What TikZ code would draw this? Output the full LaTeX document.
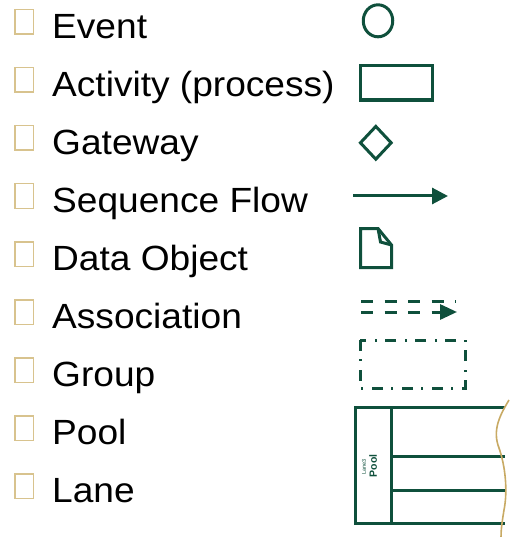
\documentclass[tikz,border=0pt]{standalone}
\usepackage{fontspec}
\setmainfont{Liberation Sans}[FakeStretch=1.06]
\newfontfamily\smallsans{Liberation Sans}
\usetikzlibrary{arrows.meta,shapes.geometric}
\definecolor{bgreen}{HTML}{0F503C}
\definecolor{bulletgold}{HTML}{D8C38E}
\definecolor{wavegold}{HTML}{C8AA64}
\tikzset{
  bulletbox/.style={draw=bulletgold, line width=1.5pt, fill=white, minimum width=18.5pt, minimum height=24.5pt, inner sep=0pt, anchor=south west},
  itemtext/.style={anchor=base west, inner sep=0pt, font=\fontsize{35}{40}\selectfont, text=black},
  symline/.style={draw=bgreen, line width=3pt},
}
\begin{document}
\begin{tikzpicture}[x=1pt,y=-1pt]
\useasboundingbox (0,0) rectangle (510,537);
% bullets and texts
\foreach \i/\t in {0/Event,1/Activity (process),2/Gateway,3/Sequence Flow,4/Data Object,5/Association,6/Group,7/Pool,8/Lane}{
  \node[bulletbox] (b\i) at (14,{38.5+58*\i-3.5}) {};
  \node[itemtext] (t\i) at (52,{38.5+58*\i}) {\t};
}
% event
\node[symline, ellipse, minimum width=29.5pt, minimum height=32pt, inner sep=0pt] (event) at (378,20.8) {};
% activity
\node[symline, rectangle, minimum width=71.5pt, minimum height=34.2pt, inner sep=0pt, line width=3.3pt] (activity) at (396.5,82.9) {};
% gateway
\node[symline, diamond, minimum width=32pt, minimum height=34pt, inner sep=0pt] (gateway) at (375.8,142.8) {};
% sequence flow
\coordinate (sfA) at (353,196);
\coordinate (sfB) at (448,196);
\draw[bgreen, line width=3pt, -{Triangle[length=16pt,width=16pt]}] (sfA) -- (sfB);
% data object
\draw[symline, line join=miter] (360.5,228.5) -- (378,228.5) -- (391.5,245) -- (391.5,267.5) -- (360.5,267.5) -- cycle;
\draw[symline, line join=miter] (378,228.5) -- (380.5,242) -- (391.5,245);
% association
\coordinate (asA) at (361,301);
\coordinate (asB) at (456,301);
\coordinate (asC) at (361,312);
\coordinate (asD) at (457,312);
\draw[bgreen, line width=3pt, dash pattern=on 12pt off 11.5pt] (asA) -- (asB);
\draw[bgreen, line width=3pt, dash pattern=on 12pt off 11.5pt, -{Triangle[length=17pt,width=15pt]}] (asC) -- (asD);
% group
\draw[bgreen, line width=3pt, dash pattern=on 11pt off 8pt on 2pt off 9pt] (360,340) rectangle (465,388);
% pool
\coordinate (pTR) at (505,407);
\coordinate (pTL) at (355,407);
\coordinate (pBL) at (355,523);
\coordinate (pBR) at (505,523);
\coordinate (dT) at (391,407);
\coordinate (dB) at (391,523);
\coordinate (l1L) at (391,456);
\coordinate (l1R) at (505,456);
\coordinate (l2L) at (391,490);
\coordinate (l2R) at (505,490);
\draw[symline] (pTR) -- (pTL) -- (pBL) -- (pBR);
\draw[symline] (dT) -- (dB);
\draw[symline] (l1L) -- (l1R);
\draw[symline] (l2L) -- (l2R);
\node[rotate=90, inner sep=0pt, text=bgreen, font=\smallsans\bfseries\fontsize{10.5}{12}\selectfont] (poolname) at (373,466) {Pool};
\node[rotate=90, inner sep=0pt, text=bgreen, font=\smallsans\fontsize{5.5}{6}\selectfont] (lanename) at (364,467) {Lane3};
% wavy edge
\draw[wavegold, line width=1.6pt] (509,400) .. controls (500,415) and (492,430) .. (499,448) .. controls (505,465) and (508,490) .. (504,510) .. controls (502,522) and (501,530) .. (501,537);
\end{tikzpicture}
\end{document}
